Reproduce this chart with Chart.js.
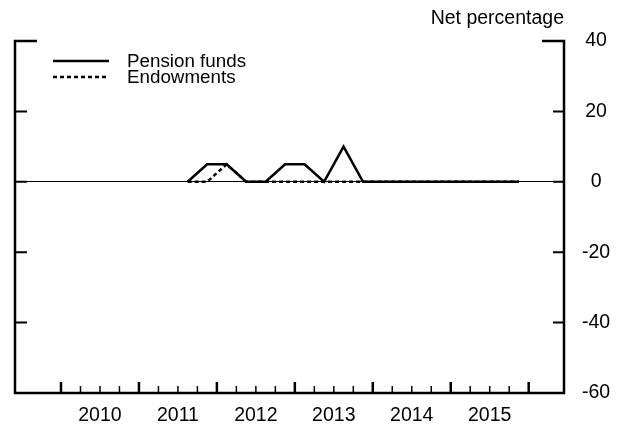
<!DOCTYPE html>
<html>
<head>
<meta charset="utf-8">
<script src="https://cdn.jsdelivr.net/npm/chart.js@4"></script>
<style>
  html, body { margin: 0; padding: 0; background: #fff; }
</style>
</head>
<body>
<canvas id="chart" width="621" height="427"></canvas>
<script>
const quarters = ['2011:Q3', '2011:Q4',
    '2012:Q1', '2012:Q2', '2012:Q3', '2012:Q4',
    '2013:Q1', '2013:Q2', '2013:Q3', '2013:Q4',
    '2014:Q1', '2014:Q2', '2014:Q3', '2014:Q4',
    '2015:Q1', '2015:Q2', '2015:Q3', '2015:Q4'];
const pensionFunds = [0, 5, 5, 0, 0, 5, 5, 0, 10, 0, 0, 0, 0, 0, 0, 0, 0, 0];
const endowments = [0, 0, 5, 0, 0, 0, 0, 0, 0, 0, 0, 0, 0, 0, 0, 0, 0, 0];
const yearLabels = ['2010', '2011', '2012', '2013', '2014', '2015'];
const yTickValues = [-60, -40, -20, 0, 20, 40];

// quarter label -> position in years (middle of the quarter)
function quarterToX(q) {
    const [yr, qq] = q.split(':Q');
    return Number(yr) + (Number(qq) - 0.5) / 4;
}

function toPoints(values) {
    return values.map((v, i) => ({ x: quarterToX(quarters[i]), y: v }));
}

Chart.defaults.font.family = "'Liberation Sans', Arial, sans-serif";
Chart.defaults.color = '#000';

const FONT_SIZE = 19.5;

// frame with short corner ticks and inward tick marks
const framePlugin = {
    id: 'frame',
    afterDraw(chart) {
        const { ctx, chartArea: a, scales: { x, y } } = chart;
        ctx.save();
        ctx.strokeStyle = '#000';
        ctx.lineJoin = 'miter';
        ctx.lineWidth = 2.5;
        ctx.beginPath();
        ctx.moveTo(a.left + 22, a.top);
        ctx.lineTo(a.left, a.top);
        ctx.lineTo(a.left, a.bottom);
        ctx.lineTo(a.right, a.bottom);
        ctx.lineTo(a.right, a.top);
        ctx.lineTo(a.right - 22, a.top);
        ctx.stroke();

        ctx.lineWidth = 2;
        y.ticks.forEach(t => {
            if (t.value <= y.min || t.value >= y.max) return;
            const py = y.getPixelForValue(t.value);
            ctx.beginPath();
            ctx.moveTo(a.left, py);
            ctx.lineTo(a.left + 12, py);
            ctx.moveTo(a.right, py);
            ctx.lineTo(a.right - 11, py);
            ctx.stroke();
        });

        x.ticks.forEach(t => {
            const major = Math.abs(t.value - Math.round(t.value)) < 1e-6;
            const px = x.getPixelForValue(t.value);
            ctx.lineWidth = major ? 2.5 : 1.5;
            ctx.beginPath();
            ctx.moveTo(px, a.bottom);
            ctx.lineTo(px, a.bottom - (major ? 11 : 7));
            ctx.stroke();
        });
        ctx.restore();
    }
};

// legend in the top-left corner of the plot and the unit label
const insideLegend = {
    id: 'insideLegend',
    afterDraw(chart) {
        const { ctx, chartArea: a } = chart;
        ctx.save();
        ctx.strokeStyle = '#000';
        ctx.fillStyle = '#000';
        ctx.font = '18.8px ' + Chart.defaults.font.family;
        ctx.textAlign = 'left';
        ctx.textBaseline = 'alphabetic';
        chart.data.datasets.forEach((ds, i) => {
            const ly = a.top + 20 + i * 16;
            ctx.lineWidth = ds.borderWidth;
            ctx.setLineDash(ds.borderDash || []);
            ctx.beginPath();
            ctx.moveTo(a.left + 38, ly);
            ctx.lineTo(a.left + 94, ly);
            ctx.stroke();
            ctx.setLineDash([]);
            ctx.fillText(ds.label, a.left + 112, ly + 5.5);
        });

        ctx.font = FONT_SIZE + 'px ' + Chart.defaults.font.family;
        ctx.textAlign = 'right';
        ctx.fillText('Net percentage', a.right, a.top - 17);
        ctx.restore();
    }
};

new Chart(document.getElementById('chart'), {
    type: 'line',
    data: {
        datasets: [{
            label: 'Pension funds',
            data: toPoints(pensionFunds),
            borderColor: '#000',
            borderWidth: 2.5,
            borderJoinStyle: 'miter',
            pointRadius: 0,
            tension: 0,
            fill: false
        }, {
            label: 'Endowments',
            data: toPoints(endowments),
            borderColor: '#000',
            borderWidth: 2.5,
            borderDash: [4, 3],
            pointRadius: 0,
            tension: 0,
            fill: false
        }]
    },
    options: {
        responsive: false,
        animation: false,
        devicePixelRatio: 1,
        layout: { padding: { left: 15, top: 41, right: 0, bottom: 0 } },
        plugins: {
            legend: { display: false },
            tooltip: { enabled: false }
        },
        scales: {
            x: {
                type: 'linear',
                min: 2009.41,
                max: 2016.453,
                grid: { display: false, drawTicks: false },
                border: { display: false },
                afterBuildTicks: scale => {
                    const first = Number(yearLabels[0]);
                    const last = Number(yearLabels[yearLabels.length - 1]) + 1;
                    const ticks = [];
                    for (let v = first; v <= last + 1e-9; v += 0.25) {
                        ticks.push({ value: v });
                    }
                    scale.ticks = ticks;
                },
                afterFit: scale => { scale.height = 34; },
                ticks: {
                    autoSkip: false,
                    maxRotation: 0,
                    minRotation: 0,
                    padding: 11,
                    font: { size: FONT_SIZE },
                    callback: value => {
                        const yr = Math.floor(value);
                        if (Math.abs(value - yr - 0.5) < 1e-6 && yearLabels.includes(String(yr))) {
                            return String(yr);
                        }
                        return '';
                    }
                }
            },
            y: {
                position: 'right',
                min: yTickValues[0],
                max: yTickValues[yTickValues.length - 1],
                afterBuildTicks: scale => {
                    scale.ticks = yTickValues.map(v => ({ value: v }));
                },
                afterFit: scale => { scale.width = 57; },
                border: { display: false },
                grid: {
                    drawTicks: false,
                    lineWidth: 1,
                    color: c => (c.tick && c.tick.value === 0 ? '#000' : 'rgba(0,0,0,0)')
                },
                ticks: {
                    crossAlign: 'center',
                    padding: 18,
                    font: { size: FONT_SIZE }
                }
            }
        }
    },
    plugins: [framePlugin, insideLegend]
});
</script>
</body>
</html>
